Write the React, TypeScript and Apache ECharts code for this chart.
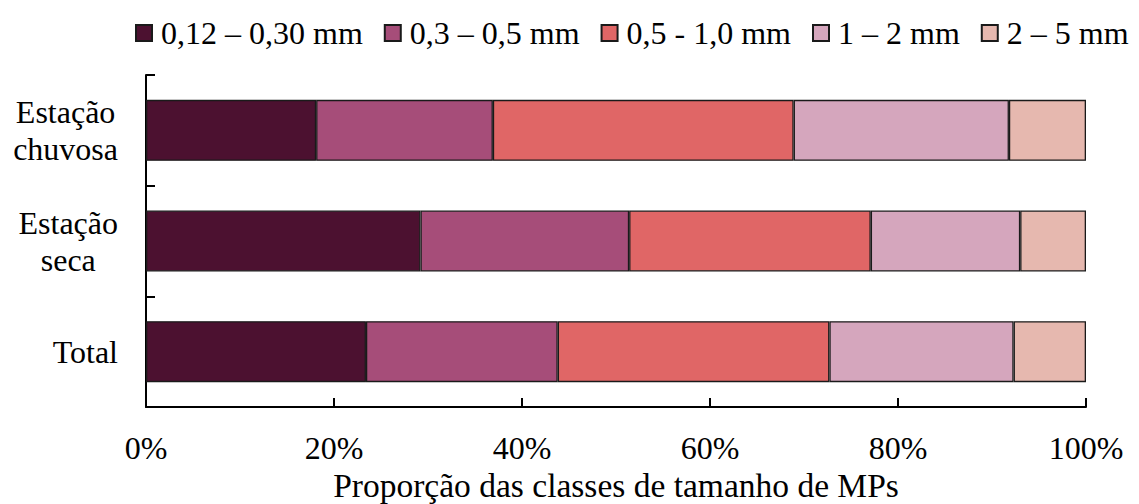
import React, { useEffect, useRef } from "react";
import * as echarts from "echarts";

const categories = ["Estação\nchuvosa", "Estação\nseca", "Total"];
const seriesNames = ["0,12 – 0,30 mm", "0,3 – 0,5 mm", "0,5 - 1,0 mm", "1 – 2 mm", "2 – 5 mm"];
const s012_030 = [18.1, 29.2, 23.4];
const s03_05 = [18.8, 22.2, 20.4];
const s05_10 = [32.0, 25.7, 28.9];
const s1_2 = [22.9, 15.9, 19.6];
const s2_5 = [8.2, 7.0, 7.7];
const seriesValues = [s012_030, s03_05, s05_10, s1_2, s2_5];
const colors = ["#4C1130", "#A64D79", "#E06666", "#D5A6BD", "#E6B8AF"];
const xTicks = [0, 20, 40, 60, 80, 100];

const FONT = "Liberation Serif";

export default function App() {
  const ref = useRef<HTMLDivElement>(null);
  useEffect(() => {
    document.body.style.margin = "0";
    if (!ref.current) return;
    const chart = echarts.init(ref.current, undefined, { renderer: "svg" });
    chart.setOption({
      animation: false,
      textStyle: { fontFamily: FONT, color: "#000" },
      legend: {
        left: 130,
        top: 12,
        itemWidth: 16,
        itemHeight: 16,
        itemGap: 21,
        icon: "rect",
        textStyle: { fontFamily: FONT, fontSize: 32, color: "#000", padding: [0, 0, 0, 4] },
        data: seriesNames,
      },
      grid: { left: 146, right: 53, top: 75, bottom: 97, containLabel: false, outerBoundsMode: "none" },
      xAxis: {
        type: "value",
        min: xTicks[0],
        max: xTicks[xTicks.length - 1],
        interval: 20,
        axisLine: { show: true, lineStyle: { color: "#000", width: 2 } },
        axisTick: { show: true, inside: true, length: 9, lineStyle: { color: "#000", width: 2 } },
        splitLine: { show: false },
        axisLabel: {
          formatter: "{value}%",
          fontFamily: FONT,
          fontSize: 32,
          color: "#000",
          margin: 25,
        },
        name: "Proporção das classes de tamanho de MPs",
        nameLocation: "middle",
        nameGap: 59,
        nameTextStyle: { fontFamily: FONT, fontSize: 33.5, color: "#000" },
      },
      yAxis: {
        type: "category",
        inverse: true,
        data: categories,
        axisLine: { show: true, lineStyle: { color: "#000", width: 2 } },
        axisTick: { show: true, inside: true, length: 9, alignWithLabel: false, lineStyle: { color: "#000", width: 2 } },
        axisLabel: {
          margin: 28,
          formatter: (v: string) =>
            v
              .split("\n")
              .map((l) => "{a|" + l + "}")
              .join("\n"),
          rich: {
            a: { fontFamily: FONT, fontSize: 32, color: "#000", align: "center", lineHeight: 37 },
          },
        },
      },
      series: seriesNames.map((name, i) => ({
        name,
        type: "bar",
        stack: "total",
        barWidth: 61,
        data: seriesValues[i],
        itemStyle: { color: colors[i], borderColor: "#1a1a1a", borderWidth: 1.3 },
        emphasis: { disabled: true },
      })),
    });
    return () => chart.dispose();
  }, []);
  return <div ref={ref} style={{ width: 1139, height: 504 }} />;
}
